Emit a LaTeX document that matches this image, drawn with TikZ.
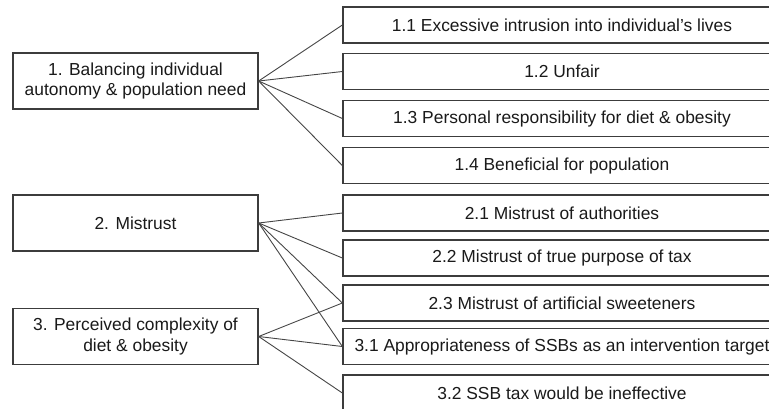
\documentclass[tikz,border=0pt]{standalone}
\usepackage{fontspec}
\setmainfont{Liberation Sans}
\usetikzlibrary{positioning}

\definecolor{boxline}{HTML}{3C3C3C}
\definecolor{linkline}{HTML}{454545}
\definecolor{textcol}{HTML}{1A1A1A}

\tikzset{
  theme/.style={draw=boxline, line width=1.3pt, fill=white, text=textcol,
    minimum width=245pt, minimum height=56pt, inner sep=0pt, align=center,
    font=\fontsize{17.4}{20.5}\selectfont},
  subtheme/.style={draw=boxline, line width=1.3pt, fill=white, text=textcol,
    minimum width=438pt, minimum height=36pt, inner sep=0pt,
    font=\fontsize{17.4}{20.5}\selectfont},
  link/.style={draw=linkline, line width=0.9pt}
}

\begin{document}
\begin{tikzpicture}[x=1pt, y=-1pt]
    \useasboundingbox (0,0) rectangle (769,408);
    \clip (0,0) rectangle (769,408);

    % Main themes
    \node[theme] (theme1) at (135.5,81) {1. Balancing individual\\autonomy \& population need};
    \node[theme] (theme2) at (135.5,223) {2. Mistrust};
    \node[theme] (theme3) at (135.5,336.5) {3. Perceived complexity of\\diet \& obesity};

    % Subthemes
    \node[subtheme] (sub11) at (562,25) {1.1 Excessive intrusion into individual’s lives};
    \node[subtheme] (sub12) at (562,71.5) {1.2 Unfair};
    \node[subtheme] (sub13) at (562,118.5) {1.3 Personal responsibility for diet \& obesity};
    \node[subtheme] (sub14) at (562,165.5) {1.4 Beneficial for population};
    \node[subtheme] (sub21) at (562,213) {2.1 Mistrust of authorities};
    \node[subtheme] (sub22) at (562,258) {2.2 Mistrust of true purpose of tax};
    \node[subtheme] (sub23) at (562,303) {2.3 Mistrust of artificial sweeteners};
    \node[subtheme] (sub31) at (562,346.5) {3.1 Appropriateness of SSBs as an intervention target};
    \node[subtheme] (sub32) at (562,393) {3.2 SSB tax would be ineffective};

    % Links
    \foreach \s in {11,12,13,14}
        \draw[link] (theme1.east) -- (sub\s.west);
    \foreach \s in {21,22,23,31}
        \draw[link] (theme2.east) -- (sub\s.west);
    \foreach \s in {23,31,32}
        \draw[link] (theme3.east) -- (sub\s.west);
\end{tikzpicture}
\end{document}
